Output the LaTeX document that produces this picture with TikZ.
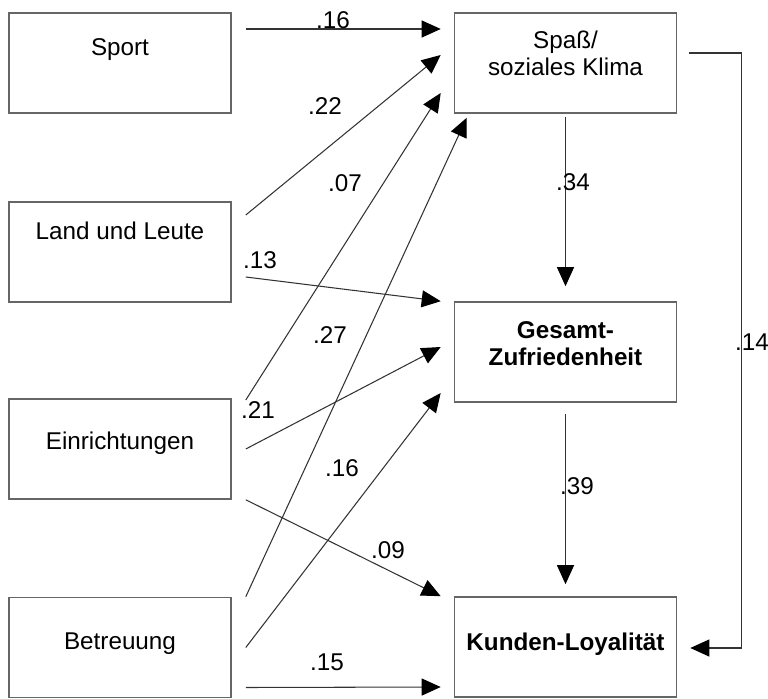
\documentclass[tikz,border=0pt]{standalone}
\usepackage{fontspec}
\setmainfont{Liberation Sans}
\usetikzlibrary{arrows.meta}
\tikzstyle{box} = [rectangle, minimum width=4.44cm, minimum height=2cm, text centered, align=center, draw=black!60, line width=0.9pt, text height=0.35cm, inner sep=0pt]
\tikzstyle{strong} = [font=\fontsize{13.8}{15.9}\selectfont\bfseries]
\tikzstyle{arrow} = [line width=0.6pt, draw=black!80, -{Triangle[length=0.38cm,width=0.34cm,color=black]}]
\tikzstyle{weight} = [inner sep=0pt]

\begin{document}
\begin{tikzpicture}[node distance=3.96cm, font=\fontsize{13.8}{15.9}\selectfont]
        \useasboundingbox (-2.4,1.26) rectangle (12.96,-12.72);
        % predictors
        \node (sport) [box, text depth=0.63cm] {Sport};
        \node (land) [box, below of=sport, node distance=3.78cm, text depth=0.83cm] {Land und Leute};
        \node (einr) [box, below of=land, node distance=3.94cm, text depth=0.35cm] {Einrichtungen};
        \node (betr) [box, below of=einr, node distance=3.97cm, text depth=0.29cm] {Betreuung};
        % outcomes
        \node (spass) [box, right of=sport, node distance=8.91cm, text height=0.52cm, text depth=0cm] {Spaß/\\soziales Klima};
        \node (gesamt) [box, strong, below of=spass, node distance=5.78cm, text height=0.56cm, text depth=0cm] {Gesamt-\\Zufriedenheit};
        \node (kunden) [box, strong, below of=gesamt, node distance=5.9cm, text depth=0.23cm] {Kunden-Loyalität};

        \draw [arrow] ([xshift=0.28cm,yshift=0.68cm]sport.east) -- ([xshift=-0.26cm,yshift=0.68cm]spass.west);
        \draw [arrow] ([xshift=0.28cm,yshift=0.74cm]land.east) -- ([xshift=-0.26cm,yshift=0.16cm]spass.west);
        \draw [arrow] ([xshift=0.28cm,yshift=-0.5cm]land.east) -- ([xshift=-0.26cm]gesamt.north west);
        \draw [arrow] ([xshift=0.28cm,yshift=0.98cm]einr.east) -- ([xshift=-0.26cm,yshift=-0.6cm]spass.west);
        \draw [arrow] ([xshift=0.28cm]einr.east) -- ([xshift=-0.26cm,yshift=0.1cm]gesamt.west);
        \draw [arrow] ([xshift=0.28cm]einr.south east) -- ([xshift=-0.26cm]kunden.north west);
        \draw [arrow] ([xshift=0.28cm]betr.north east) -- ([xshift=0.26cm,yshift=-0.08cm]spass.south west);
        \draw [arrow] ([xshift=0.28cm]betr.east) -- ([xshift=-0.26cm,yshift=-0.82cm]gesamt.west);
        \draw [arrow] ([xshift=0.28cm,yshift=-0.8cm]betr.east) -- ([xshift=-0.26cm,yshift=-0.8cm]kunden.west);
        \draw [arrow, shorten <=0.06cm, shorten >=0.3cm] (spass.south) -- (gesamt.north);
        \draw [arrow, shorten <=0.22cm, shorten >=0.24cm] (gesamt.south) -- (kunden.north);
        \draw [arrow] ([xshift=0.24cm,yshift=0.2cm]spass.east) -- ++(1.04,0) |- ([xshift=0.26cm,yshift=-0.02cm]kunden.east);

        % path weights
        \node (w1) [weight] at (4.26,0.86) {.16};
        \node (w2) [weight] at (4.10,-0.86) {.22};
        \node (w3) [weight] at (4.50,-2.40) {.07};
        \node (w4) [weight] at (2.80,-3.94) {.13};
        \node (w5) [weight] at (4.20,-5.44) {.27};
        \node (w6) [weight] at (2.76,-6.94) {.21};
        \node (w7) [weight] at (4.44,-8.10) {.16};
        \node (w8) [weight] at (5.36,-9.74) {.09};
        \node (w9) [weight] at (4.14,-11.98) {.15};
        \node (w10) [weight] at (9.06,-2.38) {.34};
        \node (w11) [weight] at (9.14,-8.46) {.39};
        \node (w12) [weight] at (12.64,-5.58) {.14};
    \end{tikzpicture}
\end{document}
